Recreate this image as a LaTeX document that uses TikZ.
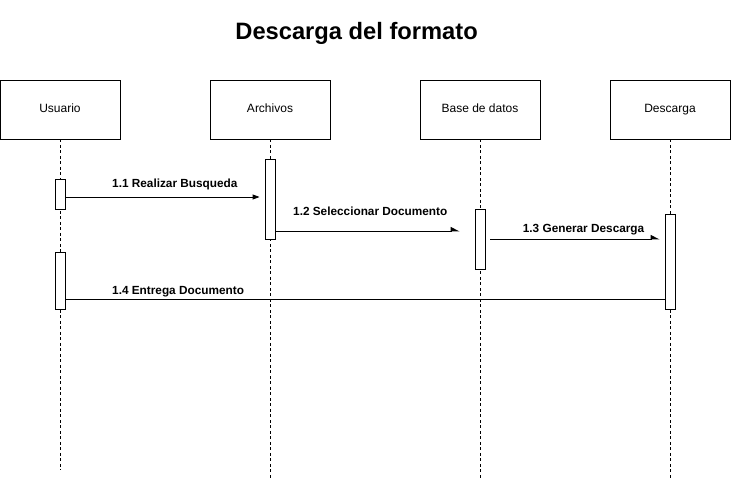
\documentclass[tikz,border=0pt]{standalone}
\usepackage{fontspec}
\setmainfont{Liberation Sans}
\usetikzlibrary{arrows.meta}
\begin{document}
\begin{tikzpicture}[x=1pt,y=-1pt,
  objeto/.style={draw,line width=0.9pt,minimum width=120pt,minimum height=59pt,inner sep=0pt,text height=8.6pt,text depth=2.6pt,font=\fontsize{12}{14}\selectfont},
  vida/.style={line width=0.8pt,dash pattern=on 3pt off 2.5pt},
  activo/.style={draw,fill=white,line width=0.9pt,minimum width=10pt,inner sep=0pt},
  msg/.style={line width=0.9pt},
  etiqueta/.style={anchor=base west,inner sep=0pt,font=\fontsize{11.8}{13}\selectfont\bfseries}]
 \useasboundingbox (0,0) rectangle (731,481);
 \node[font=\fontsize{23.7}{26}\selectfont\bfseries] (titulo) at (356.6,33) {Descarga del formato};
 \node[objeto] (usuario) at (60,109.5) {Usuario};
 \node[objeto] (archivos) at (270,109.5) {Archivos};
 \node[objeto] (bd) at (480,109.5) {Base de datos};
 \node[objeto] (descarga) at (670,109.5) {Descarga};
 \coordinate (finU) at (60,470);
 \coordinate (finA) at (270,479);
 \coordinate (finB) at (480,479);
 \coordinate (finD) at (670,479);
 \draw[vida] (usuario.south) -- (finU);
 \draw[vida] (archivos.south) -- (finA);
 \draw[vida] (bd.south) -- (finB);
 \draw[vida] (descarga.south) -- (finD);
 \node[activo,minimum height=30pt] (actU1) at (60,194) {};
 \node[activo,minimum height=57pt] (actU2) at (60,280.5) {};
 \node[activo,minimum height=80pt] (actA) at (270,199) {};
 \node[activo,minimum height=60pt] (actB) at (480,239) {};
 \node[activo,minimum height=95pt] (actD) at (670,261.5) {};
 \draw[msg,-{Triangle[length=7pt,width=5pt]},shorten >=5pt] (actU1.east |- 0,197) -- (actA.west |- 0,197);
 \draw[msg,-{Triangle[harpoon,length=8pt,width=8pt]},shorten >=15pt] (actA.east |- 0,231) -- (actB.west |- 0,231);
 \draw[msg,-{Triangle[harpoon,length=8pt,width=8pt]},shorten <=5pt,shorten >=5pt] (actB.east |- 0,239) -- (actD.west |- 0,239);
 \draw[msg] (actD.west |- 0,299) -- (actU2.east |- 0,299);
 \node[etiqueta] (m1) at (112,187.7) {1.1 Realizar Busqueda};
 \node[etiqueta] (m2) at (293,215.7) {1.2 Seleccionar Documento};
 \node[etiqueta] (m3) at (522.7,232.7) {1.3 Generar Descarga};
 \node[etiqueta] (m4) at (112,294.7) {1.4 Entrega Documento};
\end{tikzpicture}
\end{document}
